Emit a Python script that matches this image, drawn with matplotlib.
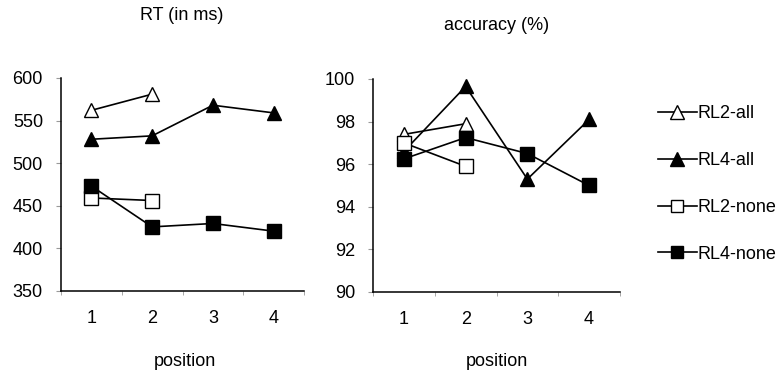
import matplotlib
matplotlib.use("Agg")
import matplotlib.pyplot as plt
from matplotlib.lines import Line2D

plt.rcParams['font.family'] = ['Liberation Sans', 'DejaVu Sans']

positions = [1, 2, 3, 4]
pos_labels = ["1", "2", "3", "4"]
series_names = ["RL2-all", "RL4-all", "RL2-none", "RL4-none"]

rt_rl2_all = [562, 581]
rt_rl4_all = [528, 532, 568, 559]
rt_rl2_none = [459, 456]
rt_rl4_none = [473, 425, 429, 420]

acc_rl2_all = [97.4, 97.9]
acc_rl4_all = [96.6, 99.65, 95.3, 98.1]
acc_rl2_none = [97.0, 95.9]
acc_rl4_none = [96.25, 97.25, 96.5, 95.0]

styles = {
    "RL2-all": dict(marker='^', mfc='white', ms=10.5),
    "RL4-all": dict(marker='^', mfc='black', ms=10.5),
    "RL2-none": dict(marker='s', mfc='white', ms=9.5),
    "RL4-none": dict(marker='s', mfc='black', ms=9.5),
}

FS = 13

fig = plt.figure(figsize=(7.8, 3.76), dpi=100)
ax1 = fig.add_axes([61/780, 1-290.7/376, 243/780, 212.7/376])
ax2 = fig.add_axes([373/780, 1-292/376, 247/780, 213/376])

def draw(ax, data, ylim, yticks):
    for name, vals in zip(series_names, data):
        ax.plot(positions[:len(vals)], vals, color='black', lw=1.2,
                mec='black', mew=1.0, **styles[name], clip_on=False, zorder=3)
    ax.set_xlim(0.5, 4.5)
    ax.set_ylim(*ylim)
    ax.set_yticks(yticks)
    ax.set_xticks(positions)
    ax.set_xticklabels(pos_labels)
    ax.set_xticks([0.5, 1.5, 2.5, 3.5, 4.5], minor=True)
    ax.tick_params(axis='x', which='major', length=0, pad=14, labelsize=FS)
    ax.tick_params(axis='x', which='minor', length=3, color='#999999', direction='out')
    ax.tick_params(axis='y', length=3.5, color='#999999', pad=9.5, labelsize=FS)
    for s in ['top', 'right']:
        ax.spines[s].set_visible(False)
    for s in ['left', 'bottom']:
        ax.spines[s].set_linewidth(1.1)

draw(ax1, [rt_rl2_all, rt_rl4_all, rt_rl2_none, rt_rl4_none], (350, 600),
     [350, 400, 450, 500, 550, 600])
draw(ax2, [acc_rl2_all, acc_rl4_all, acc_rl2_none, acc_rl4_none], (90, 100),
     [90, 92, 94, 96, 98, 100])

fig.text(182/780, 1-16/376, "RT (in ms)", ha='center', va='center', fontsize=FS)
fig.text(497/780, 1-25/376, "accuracy (%)", ha='center', va='center', fontsize=FS)
fig.text(185/780, 1-362/376, "position", ha='center', va='center', fontsize=FS)
fig.text(497/780, 1-362/376, "position", ha='center', va='center', fontsize=FS)

handles = [Line2D([], [], color='black', lw=1.2, mec='black', mew=1.0,
                  **{**styles[n], 'ms': styles[n]['ms'] - 0.5}) for n in series_names]
fig.legend(handles, series_names, loc='center left',
           bbox_to_anchor=(658/780, 1-184/376), frameon=False, fontsize=FS,
           handlelength=2.15, handletextpad=0.05, labelspacing=1.65,
           borderaxespad=0, borderpad=0)

fig.savefig("out.png", dpi=100)
